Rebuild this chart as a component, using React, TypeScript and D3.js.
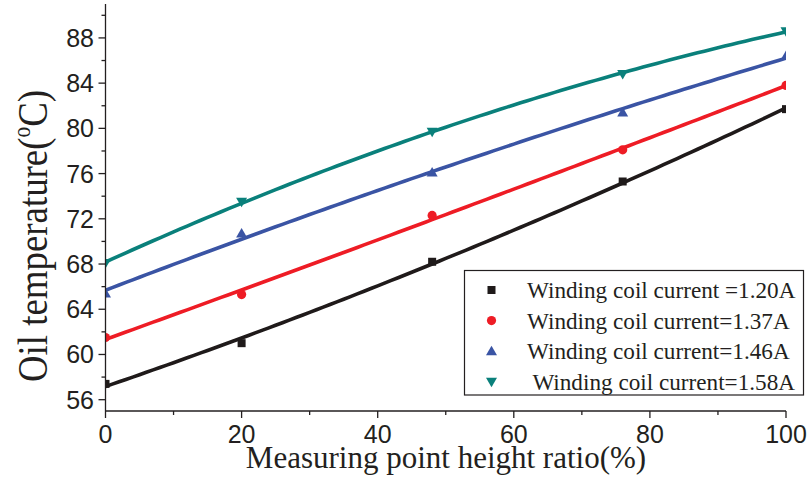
import React from "react";
import * as d3 from "d3";

const heightRatio = [0, 20, 48, 76, 100];
const temp120 = [57.4, 61.0, 68.2, 75.3, 81.7];
const temp137 = [61.5, 65.3, 72.3, 78.1, 83.8];
const temp146 = [65.4, 70.7, 76.1, 81.4, 86.4];
const temp158 = [68.1, 73.5, 79.7, 84.8, 88.6];

const seriesLabels = [
  "Winding coil current =1.20A",
  "Winding coil current=1.37A",
  "Winding coil current=1.46A",
  " Winding coil current=1.58A",
];
const seriesColors = ["#1f1a1a", "#ee1c25", "#3a54a4", "#0a807b"];
const seriesShapes = ["square", "circle", "triangleUp", "triangleDown"];
const seriesValues = [temp120, temp137, temp146, temp158];

const xTicks = [0, 20, 40, 60, 80, 100];
const xMinor = [10, 30, 50, 70, 90];
const yTicks = [56, 60, 64, 68, 72, 76, 80, 84, 88];
const yMinor = [58, 62, 66, 70, 74, 78, 82, 86, 90];

const W = 807;
const H = 486;
const L = 105.5;
const R = 786;
const T = 4;
const B = 411;

const x = d3.scaleLinear().domain([0, 100]).range([L, R]);
const y = d3.scaleLinear().domain([55, 91]).range([B, T]);

function quadFit(xs: number[], ys: number[]) {
  // least squares y = a + b x + c x^2
  const n = xs.length;
  let s0 = n, s1 = 0, s2 = 0, s3 = 0, s4 = 0, t0 = 0, t1 = 0, t2 = 0;
  for (let i = 0; i < n; i++) {
    const xi = xs[i], yi = ys[i];
    s1 += xi; s2 += xi * xi; s3 += xi ** 3; s4 += xi ** 4;
    t0 += yi; t1 += xi * yi; t2 += xi * xi * yi;
  }
  const M = [
    [s0, s1, s2, t0],
    [s1, s2, s3, t1],
    [s2, s3, s4, t2],
  ];
  for (let i = 0; i < 3; i++) {
    let p = i;
    for (let k = i + 1; k < 3; k++) if (Math.abs(M[k][i]) > Math.abs(M[p][i])) p = k;
    [M[i], M[p]] = [M[p], M[i]];
    for (let k = i + 1; k < 3; k++) {
      const f = M[k][i] / M[i][i];
      for (let j = i; j < 4; j++) M[k][j] -= f * M[i][j];
    }
  }
  const c = new Array(3).fill(0);
  for (let i = 2; i >= 0; i--) {
    let s = M[i][3];
    for (let j = i + 1; j < 3; j++) s -= M[i][j] * c[j];
    c[i] = s / M[i][i];
  }
  return (v: number) => c[0] + c[1] * v + c[2] * v * v;
}

function Marker({ shape, cx, cy, color }: { shape: string; cx: number; cy: number; color: string }) {
  if (shape === "square") return <rect x={cx - 4} y={cy - 4} width={8} height={8} fill={color} />;
  if (shape === "circle") return <circle cx={cx} cy={cy} r={4.6} fill={color} />;
  if (shape === "triangleUp")
    return <path d={`M${cx},${cy - 5.5}L${cx + 5.5},${cy + 4}L${cx - 5.5},${cy + 4}Z`} fill={color} />;
  return <path d={`M${cx},${cy + 5.5}L${cx + 5.5},${cy - 4}L${cx - 5.5},${cy - 4}Z`} fill={color} />;
}

export default function App() {
  const samples = d3.range(0, 100.01, 1);
  const serif = "'Liberation Serif', 'Times New Roman', serif";
  const sans = "'Liberation Sans', Arial, sans-serif";
  return (
    <svg
      width={W}
      height={H}
      style={{ position: "absolute", left: 0, top: 0, background: "#fff" }}
    >
      <defs>
        <clipPath id="plot">
          <rect x={L} y={0} width={R - L} height={B} />
        </clipPath>
      </defs>
      <g clipPath="url(#plot)">
        {seriesValues.map((vals, si) => {
          const f = quadFit(heightRatio, vals);
          const path = d3
            .line<number>()
            .x((d) => x(d))
            .y((d) => y(f(d)))(samples) as string;
          return (
            <g key={si}>
              <path d={path} fill="none" stroke={seriesColors[si]} strokeWidth={3.6} />
              {vals.map((v, i) => (
                <Marker key={i} shape={seriesShapes[si]} cx={x(heightRatio[i])} cy={y(v)} color={seriesColors[si]} />
              ))}
            </g>
          );
        })}
      </g>
      {/* axes */}
      <g stroke="#231f20" strokeWidth={1.3} fill="none">
        <line x1={L} x2={L} y1={T} y2={B} />
        <line x1={L} x2={R} y1={B} y2={B} />
        {xTicks.map((t) => (
          <line key={"xt" + t} x1={x(t)} x2={x(t)} y1={B} y2={B + 7} />
        ))}
        {xMinor.map((t) => (
          <line key={"xm" + t} x1={x(t)} x2={x(t)} y1={B} y2={B + 4} />
        ))}
        {yTicks.map((t) => (
          <line key={"yt" + t} x1={L} x2={L - 7} y1={y(t)} y2={y(t)} />
        ))}
        {yMinor.map((t) => (
          <line key={"ym" + t} x1={L} x2={L - 4} y1={y(t)} y2={y(t)} />
        ))}
      </g>
      <g fontFamily={sans} fontSize={25} fill="#231f20">
        {xTicks.map((t) => (
          <text key={"xl" + t} x={x(t)} y={443} textAnchor="middle">
            {t}
          </text>
        ))}
        {yTicks.map((t) => (
          <text key={"yl" + t} x={94} y={y(t) + 9} textAnchor="end">
            {t}
          </text>
        ))}
      </g>
      <text x={446} y={468} textAnchor="middle" fontFamily={serif} fontSize={31} fill="#231f20">
        Measuring point height ratio(%)
      </text>
      <text
        transform="translate(46.5,236) rotate(-90)"
        textAnchor="middle"
        fontFamily={serif}
        fontSize={43}
        textLength={292}
        lengthAdjust="spacingAndGlyphs"
        fill="#231f20"
      >
        Oil temperature(
        <tspan fontSize={25} dy={-17}>o</tspan>
        <tspan dy={17}>C)</tspan>
      </text>
      {/* legend */}
      <rect x={464.5} y={270.5} width={339} height={124.5} fill="#fff" stroke="#231f20" strokeWidth={1.2} />
      {seriesLabels.map((lab, i) => {
        const cy = 290 + i * 30.6;
        return (
          <g key={"lg" + i}>
            <Marker shape={seriesShapes[i]} cx={491.5} cy={cy} color={seriesColors[i]} />
            <text
              x={527}
              y={cy + 8}
              fontFamily={serif}
              fontSize={23.2}
              fill="#231f20"
              style={{ whiteSpace: "pre" }}
            >
              {lab}
            </text>
          </g>
        );
      })}
    </svg>
  );
}
